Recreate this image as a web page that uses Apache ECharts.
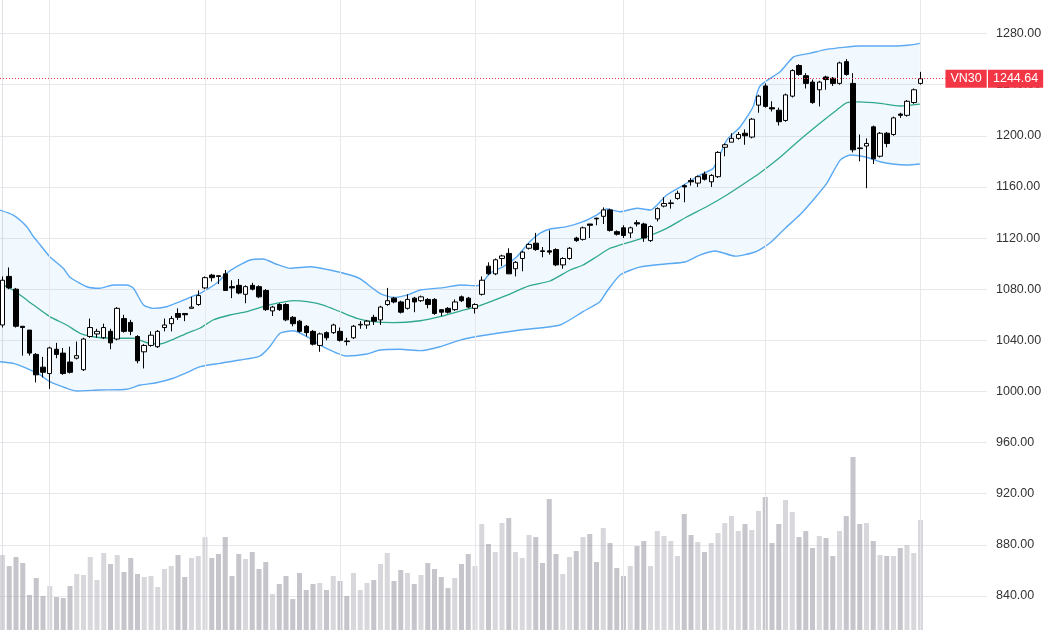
<!DOCTYPE html>
<html>
<head>
<meta charset="utf-8">
<script src="https://cdn.jsdelivr.net/npm/echarts@6/dist/echarts.min.js"></script>
<style>
  html, body { margin: 0; padding: 0; background: #fff; }
  #main { width: 1050px; height: 630px; }
</style>
</head>
<body>
<div id="main"></div>
<script>
// daily candles: [open, close, low, high]
var ohlc = [
  [1052, 1087, 1050, 1090], [1090, 1081, 1080, 1097], [1080, 1051, 1050, 1081], [1051, 1050, 1028, 1051],
  [1048, 1030, 1028, 1048], [1029, 1013, 1007, 1030], [1019, 1015, 1011, 1027], [1014, 1034, 1002, 1035],
  [1033, 1029, 1026, 1038], [1030, 1014, 1013, 1034], [1023, 1015, 1014, 1035], [1026, 1028, 1025, 1039],
  [1017, 1041, 1016, 1042], [1043, 1050, 1042, 1057], [1045, 1047, 1042, 1049], [1042, 1050, 1041, 1053],
  [1047, 1038, 1033, 1049], [1041, 1065, 1040, 1066], [1057, 1047, 1046, 1060], [1054, 1047, 1044, 1056],
  [1043, 1024, 1022, 1044], [1031, 1036, 1018, 1037], [1036, 1044, 1035, 1047], [1035, 1047, 1034, 1048],
  [1050, 1052, 1047, 1057], [1053, 1057, 1047, 1059], [1061, 1058, 1056, 1065], [1061, 1060, 1055, 1061],
  [1065, 1066, 1065, 1074], [1068, 1075, 1067, 1079], [1081, 1089, 1080, 1090], [1091, 1089, 1086, 1092],
  [1090.5, 1090, 1084, 1090.5], [1092, 1079, 1079, 1095], [1082, 1081, 1073, 1087], [1083, 1077, 1076, 1088],
  [1076, 1082, 1069, 1083], [1083, 1080, 1079, 1085], [1082, 1074, 1073, 1083], [1079, 1064, 1063, 1080],
  [1063, 1066, 1059, 1067], [1068, 1064, 1063, 1069], [1068, 1056, 1055, 1069], [1058, 1053, 1051, 1059],
  [1055, 1047, 1046, 1056], [1051, 1046, 1043, 1052], [1047, 1037, 1036, 1048], [1036, 1045, 1031, 1046],
  [1046, 1042, 1040, 1047], [1046, 1052, 1045, 1053], [1047, 1040, 1039, 1050], [1039.5, 1039, 1036, 1042],
  [1042, 1051, 1041, 1052], [1052, 1052.5, 1049, 1055], [1052, 1055, 1049, 1056], [1058, 1055, 1052, 1060],
  [1056, 1066, 1052, 1067], [1068, 1071, 1067, 1081], [1073, 1070, 1069, 1074], [1070, 1062, 1061, 1071],
  [1065, 1072, 1064, 1076], [1073, 1070, 1062, 1074], [1071, 1074, 1070, 1075], [1072, 1068, 1065, 1073],
  [1072, 1061, 1060, 1073], [1064, 1062, 1059, 1064], [1065, 1062, 1061, 1066], [1064, 1070, 1063, 1072],
  [1074, 1071, 1070, 1075], [1073, 1066, 1065, 1074], [1065, 1068, 1061, 1069], [1076, 1087, 1075, 1090],
  [1098, 1092, 1091, 1101], [1092, 1103, 1091, 1104], [1104, 1106, 1098, 1107], [1108, 1092, 1092, 1112],
  [1096, 1101, 1090, 1102], [1104, 1109, 1094, 1110], [1112, 1115, 1111, 1116], [1116, 1111, 1110, 1124],
  [1110, 1109.5, 1105, 1113], [1110, 1109, 1107, 1126], [1111, 1099, 1098, 1112], [1099, 1104, 1096, 1105],
  [1104, 1112, 1103, 1113], [1120, 1118, 1117, 1121], [1119, 1128, 1118, 1129], [1131, 1130, 1120, 1131],
  [1135.5, 1135, 1130, 1136], [1137, 1142, 1131, 1144], [1142, 1126, 1125, 1143], [1125, 1123, 1122, 1126],
  [1128, 1122, 1120, 1130], [1124, 1128, 1120, 1129], [1132, 1131, 1129, 1134], [1131, 1120, 1117, 1132],
  [1118, 1129, 1117, 1130], [1135, 1143, 1133, 1144], [1145, 1147, 1144, 1152], [1147, 1147.5, 1143, 1150],
  [1151, 1155, 1150, 1157], [1161, 1160, 1148, 1162], [1165, 1164, 1161, 1167], [1163, 1168, 1160, 1169],
  [1170, 1166, 1165, 1172], [1164, 1169, 1160, 1170], [1168, 1187, 1167, 1188], [1191, 1193, 1184, 1194],
  [1195, 1198, 1195, 1202], [1198, 1201, 1197, 1203], [1202, 1200, 1193, 1205], [1199, 1213, 1198, 1214],
  [1224, 1231, 1218, 1232], [1239, 1223, 1222, 1241], [1222, 1221, 1219, 1227], [1220, 1211, 1208, 1222],
  [1212, 1232, 1211, 1233], [1231, 1251, 1230, 1252], [1255, 1248, 1247, 1256], [1247, 1241, 1237, 1249],
  [1242, 1226, 1225, 1244], [1236, 1242, 1223, 1243], [1246, 1244, 1236, 1247], [1245, 1241, 1239, 1246],
  [1241, 1257, 1240, 1258], [1258, 1248, 1247, 1260], [1241, 1189, 1187, 1249], [1190.5, 1190, 1180, 1201],
  [1192, 1194, 1159, 1198], [1207, 1182, 1178, 1208], [1184, 1202, 1183, 1203], [1202, 1194, 1191, 1203],
  [1201, 1214, 1200, 1215], [1217, 1216, 1214, 1218], [1216, 1227, 1215, 1228], [1226, 1236, 1225, 1237],
  [1241, 1244.64, 1240, 1250]
];

// volume, relative units
var volume = [
  75, 64, 73, 67, 35, 52, 34, 44, 33, 32,
  44, 56, 55, 73, 50, 77, 66, 75, 58, 72,
  56, 53, 54, 43, 61, 64, 75, 53, 72, 74,
  93, 72, 76, 93, 54, 76, 71, 78, 61, 68,
  36, 46, 54, 31, 57, 40, 46, 47, 40, 54,
  49, 34, 57, 40, 47, 50, 66, 77, 49, 60,
  57, 46, 55, 67, 61, 53, 42, 52, 66, 76,
  64, 106, 86, 78, 107, 112, 78, 72, 95, 93,
  67, 131, 76, 56, 73, 79, 93, 96, 68, 102,
  87, 62, 54, 64, 84, 89, 64, 99, 94, 89,
  74, 116, 95, 88, 78, 87, 97, 107, 114, 99,
  106, 100, 119, 133, 87, 106, 130, 118, 93, 99,
  82, 94, 92, 74, 99, 114, 173, 106, 107, 89,
  75, 74, 74, 82, 85, 77, 110
];

// bollinger bands: [candle index, price]
var upperBand = [
  [-0.4, 1141.9], [1.6, 1138.0], [3.6, 1128.9], [4.6, 1121.0], [5.6, 1114.6], [7.0, 1105.4], [9.0, 1096.3],
  [10.0, 1089.3], [12.5, 1081.9], [14.4, 1080.7], [16.4, 1083.3], [18.4, 1083.3], [19.4, 1080.7], [20.9, 1067.6],
  [22.3, 1065.0], [24.3, 1066.3], [26.3, 1070.2], [28.3, 1074.7], [29.3, 1076.8], [31.7, 1084.6], [33.2, 1092.4],
  [34.7, 1097.6], [36.7, 1102.8], [38.6, 1103.6], [40.6, 1099.5], [42.6, 1096.3], [45.6, 1097.6], [48.5, 1095.0],
  [51.5, 1091.1], [53.0, 1088.0], [55.9, 1076.8], [57.9, 1073.6], [59.9, 1075.4], [61.9, 1079.4], [65.3, 1081.2],
  [67.8, 1083.3], [70.3, 1082.7], [71.2, 1085.8], [72.2, 1092.4], [74.2, 1097.6], [76.2, 1105.4], [78.1, 1117.1],
  [79.6, 1123.7], [81.1, 1127.1], [83.6, 1128.9], [86.0, 1132.8], [88.0, 1138.0], [89.5, 1142.7], [91.5, 1140.6],
  [94.0, 1143.3], [96.0, 1141.9], [98.4, 1153.7], [100.9, 1161.5], [103.3, 1169.3], [105.3, 1174.6], [107.3, 1196.7],
  [109.3, 1207.1], [111.2, 1222.7], [112.2, 1238.9], [115.2, 1250.1], [117.2, 1261.8], [119.6, 1264.5], [122.1, 1267.6],
  [124.6, 1269.2], [127.0, 1270.2], [132.0, 1270.2], [134.4, 1271.0], [135.9, 1272.3]
];
var middleBand = [
  [-0.4, 1084.8], [1.1, 1080.7], [2.6, 1075.4], [4.6, 1067.6], [7.0, 1058.5], [9.5, 1052.0], [11.5, 1045.5],
  [14.0, 1042.4], [16.9, 1041.6], [19.4, 1041.6], [21.4, 1038.1], [23.3, 1037.1], [25.3, 1040.8], [27.3, 1045.5],
  [29.3, 1049.6], [31.2, 1055.9], [33.7, 1059.8], [36.2, 1062.4], [38.6, 1066.3], [41.1, 1069.4], [43.1, 1071.0],
  [45.1, 1070.2], [47.5, 1067.6], [50.0, 1062.4], [52.5, 1057.2], [54.9, 1054.6], [57.9, 1053.8], [61.9, 1055.3],
  [64.8, 1058.5], [67.8, 1062.9], [70.3, 1066.3], [74.2, 1074.1], [78.1, 1082.7], [81.1, 1086.4], [84.1, 1095.0],
  [86.0, 1098.9], [88.0, 1105.4], [90.0, 1112.0], [91.5, 1114.6], [95.4, 1121.0], [98.4, 1127.6], [101.4, 1136.7],
  [104.3, 1144.5], [107.3, 1153.7], [110.3, 1164.1], [112.2, 1170.9], [115.2, 1183.2], [118.1, 1196.7], [121.1, 1209.8],
  [123.6, 1220.2], [125.1, 1225.9], [127.0, 1226.6], [130.0, 1225.4], [133.0, 1223.3], [135.9, 1224.8]
];
var lowerBand = [
  [-0.4, 1023.3], [1.6, 1022.0], [3.6, 1018.1], [5.6, 1012.9], [7.0, 1007.6], [9.5, 1002.5], [11.0, 1000.3],
  [14.4, 1001.1], [18.4, 1001.7], [20.4, 1005.0], [22.8, 1006.8], [25.3, 1010.3], [27.3, 1014.7], [29.3, 1019.4],
  [32.2, 1022.0], [35.2, 1024.6], [38.1, 1027.7], [39.6, 1035.0], [41.1, 1045.5], [43.1, 1047.5], [45.1, 1042.8],
  [47.5, 1035.0], [51.0, 1027.7], [54.0, 1029.3], [55.9, 1032.4], [58.9, 1033.0], [61.9, 1031.9], [64.8, 1035.0],
  [67.8, 1040.2], [70.7, 1043.4], [76.7, 1048.1], [82.6, 1052.0], [86.0, 1062.4], [88.5, 1070.2], [89.5, 1078.0],
  [91.5, 1091.1], [94.4, 1097.3], [98.2, 1099.7], [101.1, 1101.3], [103.3, 1106.7], [105.6, 1109.9], [108.5, 1105.9],
  [111.5, 1109.1], [113.7, 1116.1], [116.0, 1127.9], [118.1, 1138.0], [120.1, 1149.8], [122.1, 1162.8], [124.1, 1181.0],
  [125.6, 1185.0], [128.0, 1183.2], [130.0, 1179.7], [131.9, 1177.9], [133.9, 1177.1], [135.9, 1177.9]
];

// candle indices where a new month starts (vertical grid lines)
var monthStarts = [7, 30, 50, 70, 92, 113, 136];
var yTicks = { min: 800, max: 1320, step: 40 };
var lastPrice = 1244.64;
var symbolName = 'VN30';

var candleData = ohlc.map(function (d, i) { return [i, d[0], d[1], d[2], d[3]]; });
var volData = volume.map(function (v, i) {
  var up = ohlc[i][1] >= ohlc[i][0];
  return { value: [i, v], itemStyle: { color: up ? 'rgba(175,175,185,0.5)' : 'rgba(150,150,160,0.55)' } };
});

var xMin = -0.37, xMax = 145.85;
var labelFont = 'Liberation Sans, Arial, sans-serif';
var chart = echarts.init(document.getElementById('main'), null, { renderer: 'canvas' });

chart.setOption({
  animation: false,
  backgroundColor: '#ffffff',
  grid: [
    { left: 0, right: 63, top: -17.6, bottom: -17.1, outerBoundsMode: 'none', containLabel: false },
    { left: 0, right: 63, top: 440, bottom: 0, outerBoundsMode: 'none', containLabel: false }
  ],
  xAxis: [
    { type: 'value', gridIndex: 0, min: xMin, max: xMax, show: false },
    { type: 'value', gridIndex: 1, min: xMin, max: xMax, show: false }
  ],
  yAxis: [
    {
      type: 'value', gridIndex: 0, position: 'right',
      min: yTicks.min, max: yTicks.max, interval: yTicks.step,
      axisLine: { show: true, lineStyle: { color: '#e0e1e6' } },
      axisTick: { show: false },
      splitLine: { lineStyle: { color: '#e8e8ec' } },
      axisLabel: {
        margin: 9, color: '#333', fontSize: 12.5, fontFamily: labelFont,
        formatter: function (v) { return v.toFixed(2); }
      }
    },
    { type: 'value', gridIndex: 1, min: 0, max: 190, show: false }
  ],
  series: [
    {
      name: 'months', type: 'line', xAxisIndex: 0, yAxisIndex: 0, data: [], z: 0,
      markLine: {
        silent: true, symbol: 'none', label: { show: false },
        lineStyle: { color: '#e8e8ec', type: 'solid', width: 1 },
        data: monthStarts.map(function (m) { return { xAxis: m }; })
      }
    },
    {
      name: 'volume', type: 'bar', xAxisIndex: 1, yAxisIndex: 1, barWidth: 5,
      data: volData, z: 1
    },
    {
      name: 'bandFill', type: 'custom', xAxisIndex: 0, yAxisIndex: 0, z: 2, silent: true,
      data: [[0, 1100]],
      renderItem: function (params, api) {
        var pts = upperBand.map(function (p) { return api.coord(p); })
          .concat(lowerBand.slice().reverse().map(function (p) { return api.coord(p); }));
        return { type: 'polygon', shape: { points: pts }, style: { fill: 'rgba(33,150,243,0.06)' } };
      }
    },
    {
      name: 'upper', type: 'line', data: upperBand, showSymbol: false, smooth: 0.2, z: 3,
      lineStyle: { color: '#5aa9f2', width: 1.4 }
    },
    {
      name: 'lower', type: 'line', data: lowerBand, showSymbol: false, smooth: 0.2, z: 3,
      lineStyle: { color: '#5aa9f2', width: 1.4 }
    },
    {
      name: 'basis', type: 'line', data: middleBand, showSymbol: false, smooth: 0.2, z: 3,
      lineStyle: { color: '#2fa88f', width: 1.3 }
    },
    {
      name: symbolName, type: 'candlestick', xAxisIndex: 0, yAxisIndex: 0, z: 5,
      dimensions: ['idx', 'open', 'close', 'lowest', 'highest'],
      encode: { x: 'idx', y: ['open', 'close', 'lowest', 'highest'] },
      data: candleData, barWidth: 5,
      itemStyle: { color: '#ffffff', color0: '#000000', borderColor: '#000000', borderColor0: '#000000', borderWidth: 1 },
      markLine: {
        silent: true, symbol: 'none', z: 10,
        labelLayout: { hideOverlap: false },
        data: [
          [
            { coord: [xMin, lastPrice], lineStyle: { color: '#f23645', type: [1, 2], width: 1 },
              label: { show: true, position: 'end', distance: 1, formatter: lastPrice.toFixed(2),
                backgroundColor: '#f23645', color: '#fff', fontSize: 12.5, padding: [3, 5, 2, 5],
                fontFamily: labelFont } },
            { coord: [xMax, lastPrice] }
          ],
          [
            { coord: [xMin, lastPrice], lineStyle: { color: 'rgba(0,0,0,0)', width: 0 },
              label: { show: true, position: 'end', distance: 2, formatter: symbolName,
                backgroundColor: '#f23645', color: '#fff', fontSize: 12.5, padding: [3, 5, 2, 5],
                fontFamily: labelFont } },
            { coord: [139.4, lastPrice] }
          ]
        ]
      }
    }
  ]
});
</script>
</body>
</html>
